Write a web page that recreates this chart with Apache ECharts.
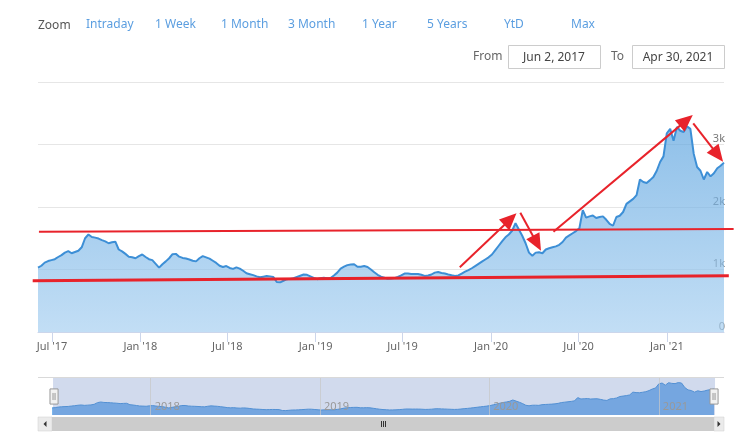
<!DOCTYPE html>
<html><head><meta charset="utf-8">
<script src="https://cdn.jsdelivr.net/npm/echarts@6/dist/echarts.min.js"></script>
<style>html,body{margin:0;padding:0;background:#fff}#c{width:743px;height:445px}</style>
</head><body><div id="c"></div>
<script>
// ---------- data ----------
const startDate = '2017-06-02';
const endDate = '2021-04-30';
const weekStepDays = 7;
const weeklyValues = [
1030,1060,1110,1135,1150,1165,1200,1230,1270,1295,1260,1280,1300,1355,1500,1560,1520,1510,1495,1470,
1450,1420,1435,1445,1320,1290,1250,1205,1195,1180,1215,1240,1200,1165,1150,1090,1030,1085,1130,1180,
1245,1250,1205,1185,1175,1160,1140,1130,1180,1215,1195,1175,1140,1105,1060,1040,1055,1025,1010,1035,
1015,980,940,925,910,890,875,885,895,890,880,800,795,820,845,850,860,880,900,920,
915,890,865,845,860,868,862,865,905,950,1015,1045,1070,1080,1085,1045,1045,1055,1040,1000,
955,915,885,870,850,855,862,880,905,935,935,928,930,928,915,898,905,920,950,960,
945,935,920,908,898,905,935,965,990,1020,1055,1090,1125,1160,1195,1240,1310,1380,1450,1515,
1560,1620,1740,1640,1540,1420,1270,1220,1270,1275,1260,1320,1340,1355,1370,1395,1440,1510,1545,1580,
1615,1660,1950,1830,1850,1865,1825,1840,1850,1795,1730,1700,1840,1860,1920,2050,2090,2130,2190,2440,
2400,2385,2430,2480,2580,2720,2810,3180,3250,3060,3280,3220,3200,3290,3250,2850,2640,2580,2440,2560,
2490,2540,2620,2660,2710
];
const xTickDates = ['2017-07-01','2018-01-01','2018-07-01','2019-01-01','2019-07-01','2020-01-01','2020-07-01','2021-01-01'];
const xTickLabels = ["Jul '17","Jan '18","Jul '18","Jan '19","Jul '19","Jan '20","Jul '20","Jan '21"];
const yTicks = [0,1000,2000,3000,4000];
const yTickLabels = ['0','1k','2k','3k',''];
const navYearDates = ['2018-01-01','2019-01-01','2020-01-01','2021-01-01'];
const navYearLabels = ['2018','2019','2020','2021'];
const zoomLabel = 'Zoom';
const zoomButtons = ['Intraday','1 Week','1 Month','3 Month','1 Year','5 Years','YtD','Max'];
const fromLabel = 'From', toLabel = 'To';
const fromText = 'Jun 2, 2017', toText = 'Apr 30, 2021';
const trendLines = [
  [['2017-06-04',1605],['2021-05-20',1648]],
  [['2017-05-22',821],['2021-05-10',901]]
];
const trendArrows = [
  [['2019-10-28',1035],['2020-02-23',1899]],
  [['2020-03-02',1909],['2020-04-14',1301]],
  [['2020-05-10',1605],['2021-02-24',3472]],
  [['2021-02-25',3339],['2021-04-28',2725]]
];

// ---------- build ----------
const t = s => +echarts.time.parse(s);
const d0 = echarts.time.parse(startDate);
const seriesData = weeklyValues.map((v,k) => [+new Date(d0.getFullYear(), d0.getMonth(), d0.getDate() + weekStepDays*k), v]);
const xTickTimes = xTickDates.map(t);
const navTimes = navYearDates.map(t);

const FONT = "'Noto Sans', 'Liberation Sans', sans-serif";
const RED = '#e8232b';
const MAIN = {left:38, right:19, top:82, bottom:113};
const NAV = {left:52, right:29, top:378, height:37};

const chart = echarts.init(document.getElementById('c'), null, {renderer:'canvas'});
const option = {
  animation:false,
  textStyle:{fontFamily:FONT},
  grid:[
    {left:MAIN.left, right:MAIN.right, top:MAIN.top, bottom:MAIN.bottom},
    {left:NAV.left, right:NAV.right, top:NAV.top, height:NAV.height}
  ],
  xAxis:[
    {type:'value', gridIndex:0, min:t(startDate), max:t(endDate), scale:true,
     axisLine:{show:true, lineStyle:{color:'#ccd6eb', width:1}},
     axisTick:{show:true, length:10, customValues:xTickTimes, lineStyle:{color:'#ccd6eb'}},
     axisLabel:{customValues:xTickTimes, color:'#666', fontSize:11, margin:9, showMinLabel:true, showMaxLabel:true,
       formatter:v => { const i = xTickTimes.indexOf(v); return i>=0 ? xTickLabels[i] : ''; }},
     splitLine:{show:false}},
    {type:'value', gridIndex:1, min:t(startDate), max:t(endDate), scale:true, z:5,
     axisLine:{show:false},
     axisTick:{show:true, inside:true, length:NAV.height, customValues:navTimes, lineStyle:{color:'rgba(200,200,200,0.7)'}},
     axisLabel:{show:true, inside:true, customValues:navTimes, color:'#999', fontSize:11, margin:3, align:'left', padding:[0,0,0,4],
       formatter:v => { const i = navTimes.indexOf(v); return i>=0 ? navYearLabels[i] : ''; }},
     splitLine:{show:false}}
  ],
  yAxis:[
    {type:'value', gridIndex:0, position:'right', min:0, max:4000, interval:1000,
     axisLine:{show:false}, axisTick:{show:false},
     splitLine:{show:true, lineStyle:{color:'#e6e6e6'}},
     axisLabel:{inside:true, margin:-1, color:'#777', fontSize:11, verticalAlign:'bottom', padding:[0,0,0,0],
       formatter:v => { const i = yTicks.indexOf(v); return i>=0 ? yTickLabels[i] : ''; }}},
    {type:'value', gridIndex:1, min:400, max:3700, show:false, splitLine:{show:false}}
  ],
  series:[
    {type:'line', xAxisIndex:0, yAxisIndex:0, data:seriesData, showSymbol:false, symbol:'none',
     lineStyle:{color:'#3d8fd6', width:2},
     areaStyle:{color:new echarts.graphic.LinearGradient(0,0,0,1,[{offset:0,color:'#5fa5df'},{offset:1,color:'#a7cff0'}])},
     z:2},
    {type:'line', xAxisIndex:1, yAxisIndex:1, data:seriesData, showSymbol:false, symbol:'none',
     lineStyle:{color:'#4a95da', width:1},
     areaStyle:{color:'#7cb5ec', opacity:1}, z:2}
  ],
  dataZoom:[
    {type:'slider', xAxisIndex:0, filterMode:'none', start:0, end:100,
     left:NAV.left, right:NAV.right, top:NAV.top, height:NAV.height,
     backgroundColor:'rgba(0,0,0,0)', borderColor:'rgba(0,0,0,0)',
     fillerColor:'rgba(102,133,194,0.3)', showDataShadow:false, showDetail:false,
     brushSelect:false, moveHandleSize:0, moveHandleStyle:{opacity:0},
     handleIcon:'path://M0,0 L8,0 L8,15 L0,15 Z M3,4 L3,11 M5,4 L5,11',
     handleSize:'41%', handleStyle:{color:'#f2f2f2', borderColor:'#999999', borderWidth:1},
     emphasis:{handleStyle:{color:'#f2f2f2', borderColor:'#999999'}}}
  ]
};
chart.setOption(option);

// ---------- decorations and annotations ----------
const g = [];
g.push({type:'text', left:38, top:20, style:{text:zoomLabel, fill:'#555', font:'12px '+FONT}});
const btnX = [86,155,221,288,362,427,504,571];
zoomButtons.forEach((b,i) => g.push({type:'text', left:btnX[i], top:19, style:{text:b, fill:'#5b9ee0', font:'12px '+FONT}}));
g.push({type:'text', left:473, top:51, style:{text:fromLabel, fill:'#666', font:'12px '+FONT}});
g.push({type:'rect', shape:{x:508.5, y:45.5, width:92, height:23}, style:{fill:'#fff', stroke:'#cccccc', lineWidth:1}});
g.push({type:'text', x:554, y:58, style:{text:fromText, fill:'#444', font:'12px '+FONT, align:'center', verticalAlign:'middle'}});
g.push({type:'text', left:611, top:51, style:{text:toLabel, fill:'#666', font:'12px '+FONT}});
g.push({type:'rect', shape:{x:632.5, y:45.5, width:92, height:23}, style:{fill:'#fff', stroke:'#cccccc', lineWidth:1}});
g.push({type:'text', x:678, y:58, style:{text:toText, fill:'#444', font:'12px '+FONT, align:'center', verticalAlign:'middle'}});
const W = 743;
const sbY = NAV.top + NAV.height + 2, sbH = 14;
g.push({type:'line', shape:{x1:MAIN.left, y1:NAV.top-0.5, x2:W-MAIN.right, y2:NAV.top-0.5}, style:{stroke:'#d9d9d9', lineWidth:1}, z:5});
g.push({type:'rect', shape:{x:MAIN.left, y:sbY, width:W-MAIN.right-MAIN.left, height:sbH}, style:{fill:'#f2f2f2'}});
g.push({type:'rect', shape:{x:NAV.left, y:sbY, width:W-NAV.right-NAV.left, height:sbH}, style:{fill:'#cccccc'}});
g.push({type:'rect', shape:{x:MAIN.left, y:sbY, width:NAV.left-MAIN.left, height:sbH}, style:{fill:'#ebebeb', stroke:'#cccccc', lineWidth:0.5}});
g.push({type:'rect', shape:{x:W-NAV.right, y:sbY, width:NAV.right-MAIN.right, height:sbH}, style:{fill:'#ebebeb', stroke:'#cccccc', lineWidth:0.5}});
const lbx = (MAIN.left+NAV.left)/2, rbx = W-(NAV.right+MAIN.right)/2, cy = sbY+sbH/2;
g.push({type:'polygon', shape:{points:[[lbx+1.5,cy-3],[lbx+1.5,cy+3],[lbx-1.5,cy]]}, style:{fill:'#333'}});
g.push({type:'polygon', shape:{points:[[rbx-1.5,cy-3],[rbx-1.5,cy+3],[rbx+1.5,cy]]}, style:{fill:'#333'}});
const midX = (NAV.left + W-NAV.right)/2;
[-2,0,2].forEach(o => g.push({type:'line', shape:{x1:Math.round(midX+o)+0.5, y1:cy-3, x2:Math.round(midX+o)+0.5, y2:cy+3}, style:{stroke:'#333', lineWidth:1}}));

const px = p => chart.convertToPixel({gridIndex:0}, [t(p[0]), p[1]]);
trendLines.forEach((ln,i) => {
  const a = px(ln[0]), b = px(ln[1]);
  g.push({type:'line', shape:{x1:a[0],y1:a[1],x2:b[0],y2:b[1]}, style:{stroke:RED, lineWidth:i===1?3:2}, z:10});
});
trendArrows.forEach(ar => {
  const a = px(ar[0]), b = px(ar[1]);
  const dx = b[0]-a[0], dy = b[1]-a[1], len = Math.hypot(dx,dy);
  const ux = dx/len, uy = dy/len, nx = -uy, ny = ux;
  const L = 17, H = 7.5;
  const bx = b[0]-ux*L, by = b[1]-uy*L;
  g.push({type:'line', shape:{x1:a[0],y1:a[1],x2:bx+ux*2,y2:by+uy*2}, style:{stroke:RED, lineWidth:2}, z:10});
  g.push({type:'polygon', shape:{points:[[b[0],b[1]],[bx+nx*H,by+ny*H],[bx-nx*H,by-ny*H]]}, style:{fill:RED}, z:10});
});
chart.setOption({graphic:g});
</script>
</body></html>
